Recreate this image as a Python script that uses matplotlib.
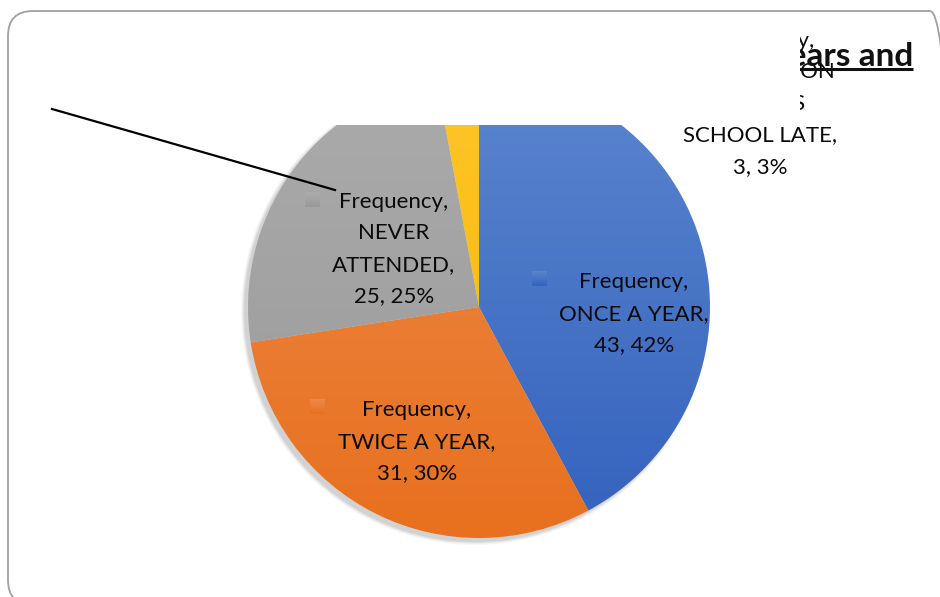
import matplotlib
matplotlib.use("Agg")
import matplotlib.pyplot as plt
import numpy as np
from matplotlib.colors import LinearSegmentedColormap
from matplotlib.patches import Rectangle, FancyBboxPatch, Circle

# ---- data ----
categories = ["ONCE A YEAR", "TWICE A YEAR", "NEVER\nATTENDED", "ORIENTATION\nCLASSES\nSCHOOL LATE"]
values = [43, 31, 25, 3]
series_name = "Frequency"
title_tail = "years and"

# ---- styles ----
grad_top = ["#5B85CF", "#ED8A4A", "#ABABAB", "#FFC52A"]
grad_bot = ["#3462BD", "#E8701E", "#999999", "#F2B600"]

W, H = 940, 597
fig = plt.figure(figsize=(9.4, 5.97), dpi=100)
ax = fig.add_axes([0, 0, 1, 1])

def Y(py):
    return H - py

cx, cy, R = 479, Y(307), 231

# soft shadow (mostly bottom-left)
for i, a in enumerate([0.03, 0.04, 0.05, 0.06]):
    ax.add_patch(Circle((cx - 4, cy - 4), R + 3 - i, facecolor="black", alpha=a, lw=0, zorder=0))

wedges, _ = ax.pie(values, startangle=90, counterclock=False, center=(cx, cy), radius=R,
                   wedgeprops=dict(linewidth=0))

grad = np.linspace(0, 1, 256).reshape(-1, 1)
for w, ct, cb in zip(wedges, grad_top, grad_bot):
    cmap = LinearSegmentedColormap.from_list("g", [cb, ct])
    w.set_facecolor("none")
    im = ax.imshow(grad, cmap=cmap, origin="lower", aspect="auto",
                   extent=(cx - R, cx + R, cy - R, cy + R), zorder=1, interpolation="bilinear")
    im.set_clip_path(w)

total = sum(values)
pcts = [round(v / total * 100) for v in values]
labels = [f"{series_name},\n{c},\n{v}, {p}%" for c, v, p in zip(categories, values, pcts)]

# label centers (px) and key positions (px)
label_pos = [(634, 314), (417, 442), (394, 249), (760, 104)]
key_pos = [(532, 271), (310, 399), (305, 192), (650, 30)]
FONT = "Lato"
for lab, (lx, ly), (kx, ky), ct, cb in zip(labels, label_pos, key_pos, grad_top, grad_bot):
    ax.text(lx, Y(ly), lab, ha="center", va="center", fontsize=16, family=FONT,
            linespacing=1.72, color="#0A0A0A", zorder=3)
    cmap = LinearSegmentedColormap.from_list("k", [cb, ct])
    ax.imshow(grad, cmap=cmap, origin="lower", aspect="auto",
              extent=(kx, kx + 15, Y(ky + 15), Y(ky)), zorder=3)

# title fragment (bold underlined)
ax.text(913, Y(66), title_tail, ha="right", va="baseline", fontsize=24, fontweight="bold",
        family=FONT, color="#111111", zorder=4)
ax.plot([700, 913], [Y(69), Y(69)], color="#111111", lw=2.2, zorder=4, solid_capstyle="butt")

# white box covering top area
ax.add_patch(Rectangle((100, Y(125)), 700, 125 - 14, facecolor="white", edgecolor="none", zorder=5))

# connector line
ax.plot([52, 335], [Y(109), Y(190)], color="black", lw=1.6, zorder=6)

# slide border
ax.add_patch(FancyBboxPatch((8 + 25, Y(605) + 25), 955 - 8 - 50, 605 - 11 - 50,
                            boxstyle="round,pad=25", facecolor="none", edgecolor="#A0A0A0",
                            lw=1.3, zorder=7))

ax.set_xlim(0, W)
ax.set_ylim(0, H)
ax.set_aspect("equal")
ax.axis("off")
fig.savefig("out.png", dpi=100)
